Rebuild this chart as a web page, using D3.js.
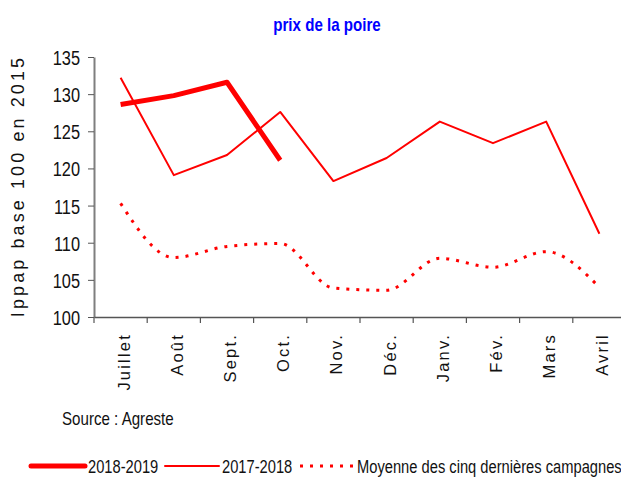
<!DOCTYPE html>
<html>
<head>
<meta charset="utf-8">
<script src="https://cdn.jsdelivr.net/npm/d3@7"></script>
<style>
  body { margin: 0; background: #fff; }
  svg { display: block; font-family: "Liberation Sans", Arial, sans-serif; }
</style>
</head>
<body>
<svg id="chart"></svg>
<script>
// data
const months = ["Juillet", "Août", "Sept.", "Oct.", "Nov.", "Déc.", "Janv.", "Fév.", "Mars", "Avril"];
const s2018 = [128.6, 129.8, 131.6, 121.1];
const s2017 = [132.2, 119.1, 121.8, 127.6, 118.3, 121.4, 126.3, 123.4, 126.3, 111.2];
const avg5 = [115.3, 108.0, 109.5, 109.9, 103.9, 103.6, 107.9, 106.7, 108.8, 104.0];
const yTicks = [100, 105, 110, 115, 120, 125, 130, 135];
const seriesNames = ["2018-2019", "2017-2018", "Moyenne des cinq dernières campagnes"];

const width = 621, height = 477;
const svg = d3.select("#chart").attr("width", width).attr("height", height);

const x = d3.scaleBand().domain(months).range([94, 626]);
const y = d3.scaleLinear().domain([100, 135]).range([317, 57]);
const cx = m => x(m) + x.bandwidth() / 2;

const condensed = 0.84;

// title
svg.append("text")
    .attr("transform", `translate(327,31) scale(${condensed},1)`)
    .attr("text-anchor", "middle")
    .attr("font-size", 18).attr("font-weight", "bold")
    .attr("fill", "#0000ff")
    .text("prix de la poire");

// y axis
const yAxis = svg.append("g")
    .attr("transform", "translate(94,0)")
    .call(d3.axisLeft(y).tickValues(yTicks).tickSize(6).tickSizeOuter(0));
yAxis.select(".domain").attr("stroke", "#7f7f7f").attr("stroke-width", 2);
yAxis.selectAll(".tick line").attr("stroke", "#555");
yAxis.selectAll(".tick text")
    .attr("x", null).attr("dy", "0.36em")
    .attr("font-size", 21).attr("fill", "#111")
    .attr("transform", "translate(-14,0) scale(0.78,1)");

svg.append("text")
    .attr("transform", "translate(24,186) rotate(-90)")
    .attr("text-anchor", "middle")
    .attr("font-size", 18).attr("letter-spacing", 3.1)
    .attr("fill", "#111")
    .text("Ippap base 100 en 2015");

// x axis
const xAxis = svg.append("g")
    .attr("transform", "translate(0,317)")
    .call(d3.axisBottom(x).tickSize(0).tickSizeOuter(0));
xAxis.select(".domain").attr("stroke", "#555").attr("stroke-width", 1.5);
xAxis.selectAll(".tick text")
    .attr("y", null).attr("dy", null)
    .attr("transform", "translate(9,16) rotate(-90)")
    .attr("text-anchor", "end")
    .attr("font-size", 16.5).attr("letter-spacing", 2.2)
    .attr("fill", "#111");
xAxis.selectAll(".bound")
    .data(months.map(m => x(m)).concat([x.range()[1]]))
    .join("line")
    .attr("class", "bound")
    .attr("x1", d => d).attr("x2", d => d)
    .attr("y1", 0).attr("y2", 6)
    .attr("stroke", "#555").attr("stroke-width", 1.2);

// series
const styles = [
    {data: s2018, width: 5, dash: null, curve: d3.curveLinear},
    {data: s2017, width: 2, dash: null, curve: d3.curveLinear},
    {data: avg5, width: 3, dash: "3,7", curve: d3.curveMonotoneX}
];

styles.slice().reverse().forEach(s => {
    const line = d3.line()
        .x((d, i) => cx(months[i]))
        .y(d => y(d))
        .curve(s.curve);
    svg.append("path")
        .attr("d", line(s.data))
        .attr("fill", "none")
        .attr("stroke", "#ff0000")
        .attr("stroke-width", s.width)
        .attr("stroke-dasharray", s.dash)
        .attr("stroke-linejoin", "round");
});

// source
svg.append("text")
    .attr("transform", `translate(62,425) scale(${condensed},1)`)
    .attr("font-size", 18).attr("fill", "#111")
    .text("Source : Agreste");

// legend
const legendX = [31, 165, 300];
const legend = svg.append("g").attr("transform", "translate(0,466)");
styles.forEach((s, i) => {
    legend.append("line")
        .attr("x1", legendX[i]).attr("x2", legendX[i] + 54)
        .attr("stroke", "#ff0000")
        .attr("stroke-width", s.width)
        .attr("stroke-dasharray", s.dash)
        .attr("stroke-linecap", s.dash ? "butt" : "round");
    legend.append("text")
        .attr("transform", `translate(${legendX[i] + 57},7) scale(${condensed},1)`)
        .attr("font-size", 17.5).attr("fill", "#111")
        .text(seriesNames[i]);
});
</script>
</body>
</html>
